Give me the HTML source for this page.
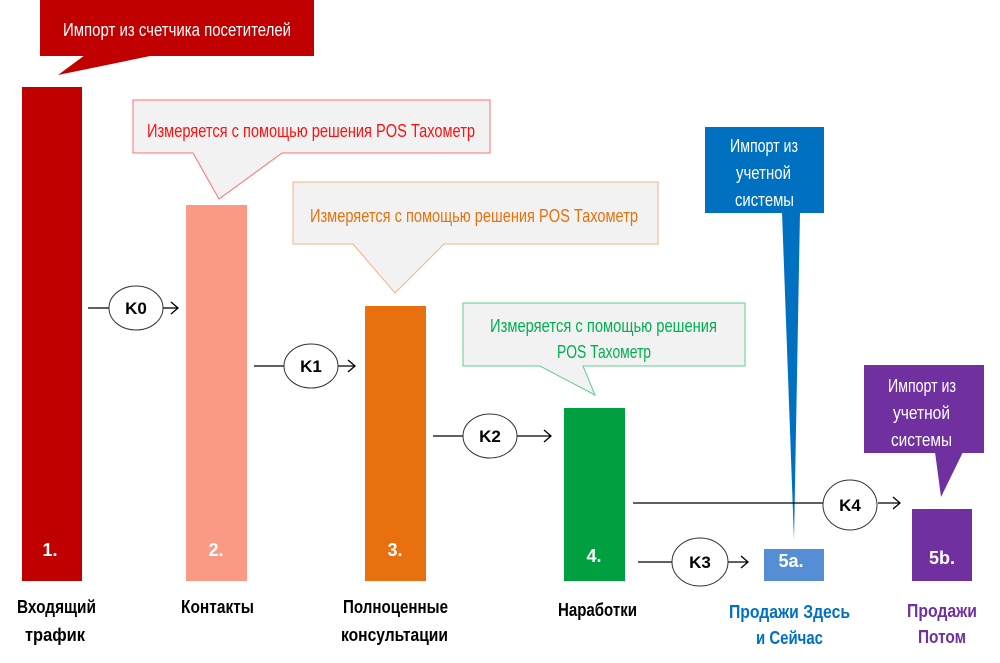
<!DOCTYPE html>
<html><head><meta charset="utf-8"><style>
html,body{margin:0;padding:0;background:#fff;}
svg{display:block;}
text{font-family:"Liberation Sans Narrow","Liberation Sans",sans-serif;}
.w{fill:#fff;font-size:18px;}
.b{font-weight:bold;}
</style></head><body>
<svg width="1000" height="663" viewBox="0 0 1000 663" xmlns="http://www.w3.org/2000/svg">
<rect x="40" y="0" width="274" height="56" fill="#c00000"/>
<polygon points="85,55 58,75 155,55" fill="#c00000"/>
<text x="63" y="36" class="w" textLength="228" lengthAdjust="spacingAndGlyphs">Импорт из счетчика посетителей</text>
<rect x="22" y="87" width="60" height="494" fill="#c00000"/>
<text x="50" y="556" text-anchor="middle" class="w b">1.</text>
<rect x="186" y="205" width="61" height="376" fill="#fa9a85"/>
<text x="216" y="556" text-anchor="middle" class="w b">2.</text>
<rect x="365" y="306" width="61" height="275" fill="#e8700e"/>
<text x="395" y="556" text-anchor="middle" class="w b">3.</text>
<rect x="564" y="408" width="61" height="173" fill="#00a040"/>
<text x="594" y="562" text-anchor="middle" class="w b">4.</text>
<rect x="764" y="549" width="60" height="32" fill="#558ed5"/>
<text x="791" y="567" text-anchor="middle" class="w b">5a.</text>
<rect x="912" y="509" width="60" height="72" fill="#7030a0"/>
<text x="942" y="564" text-anchor="middle" class="w b">5b.</text>
<path d="M133,100 H490 V153 H282 L219,199 L193,153 H133 Z" fill="#f2f2f2" stroke="#ff7070" stroke-width="1"/>
<text x="147" y="137" font-size="18" fill="#ff1010" textLength="328" lengthAdjust="spacingAndGlyphs">Измеряется с помощью решения POS Тахометр</text>
<path d="M293,182 H658 V244 H444 L395,293 L353,244 H293 Z" fill="#f2f2f2" stroke="#f4b183" stroke-width="1"/>
<text x="310" y="222" font-size="18" fill="#e8710a" textLength="328" lengthAdjust="spacingAndGlyphs">Измеряется с помощью решения POS Тахометр</text>
<path d="M463,303 H745 V366 H583 L595,395 L540,366 H463 Z" fill="#f2f2f2" stroke="#5ecf8e" stroke-width="1"/>
<text x="490" y="332" font-size="18" fill="#00b050" textLength="227" lengthAdjust="spacingAndGlyphs">Измеряется с помощью решения</text>
<text x="557" y="358" font-size="18" fill="#00b050" textLength="94" lengthAdjust="spacingAndGlyphs">POS Тахометр</text>
<rect x="705" y="127" width="119" height="86" fill="#0070c0"/>
<polygon points="782,212 794,540 800,212" fill="#0070c0"/>
<text x="730" y="152" class="w" textLength="68" lengthAdjust="spacingAndGlyphs">Импорт из</text>
<text x="736" y="179" class="w" textLength="55" lengthAdjust="spacingAndGlyphs">учетной</text>
<text x="735" y="206" class="w" textLength="59" lengthAdjust="spacingAndGlyphs">системы</text>
<rect x="864" y="365" width="120" height="88" fill="#7030a0"/>
<polygon points="935,452 941,497 963,452" fill="#7030a0"/>
<text x="888" y="392" class="w" textLength="68" lengthAdjust="spacingAndGlyphs">Импорт из</text>
<text x="893" y="419" class="w" textLength="57" lengthAdjust="spacingAndGlyphs">учетной</text>
<text x="891" y="446" class="w" textLength="61" lengthAdjust="spacingAndGlyphs">системы</text>
<g stroke="#000" stroke-width="1.3" fill="none">
<line x1="88" y1="308" x2="110" y2="308"/><line x1="163" y1="308" x2="178" y2="308"/><polyline points="171,302 178,308 171,314"/>
<line x1="254" y1="366" x2="284" y2="366"/><line x1="337" y1="366" x2="355" y2="366"/><polyline points="348,360 355,366 348,372"/>
<line x1="433" y1="436" x2="463" y2="436"/><line x1="517" y1="436" x2="551" y2="436"/><polyline points="544,430 551,436 544,442"/>
<line x1="633" y1="503" x2="823" y2="503"/><line x1="878" y1="503" x2="900" y2="503"/><polyline points="893,497 900,503 893,509"/>
<line x1="638" y1="562" x2="673" y2="562"/><line x1="728" y1="562" x2="748" y2="562"/><polyline points="741,556 748,562 741,568"/>
</g>
<g fill="#fff" stroke="#333" stroke-width="1">
<ellipse cx="136" cy="308" rx="27" ry="22"/>
<ellipse cx="311" cy="366" rx="27" ry="22"/>
<ellipse cx="490" cy="436" rx="27" ry="22"/>
<ellipse cx="850" cy="505" rx="27" ry="25"/>
<ellipse cx="700" cy="562" rx="28" ry="24"/>
</g>
<g font-size="17" font-weight="bold" text-anchor="middle" fill="#000">
<text x="136" y="314">K0</text>
<text x="311" y="372">K1</text>
<text x="490" y="442">K2</text>
<text x="850" y="511">K4</text>
<text x="700" y="568">K3</text>
</g>
<g font-size="18" font-weight="bold">
<text x="17" y="613" fill="#000" textLength="79" lengthAdjust="spacingAndGlyphs">Входящий</text>
<text x="25" y="641" fill="#000" textLength="60" lengthAdjust="spacingAndGlyphs">трафик</text>
<text x="181" y="613" fill="#000" textLength="73" lengthAdjust="spacingAndGlyphs">Контакты</text>
<text x="343" y="613" fill="#000" textLength="105" lengthAdjust="spacingAndGlyphs">Полноценные</text>
<text x="341" y="641" fill="#000" textLength="107" lengthAdjust="spacingAndGlyphs">консультации</text>
<text x="558" y="616" fill="#000" textLength="79" lengthAdjust="spacingAndGlyphs">Наработки</text>
<text x="729" y="618" fill="#0070c0" textLength="121" lengthAdjust="spacingAndGlyphs">Продажи Здесь</text>
<text x="756" y="644" fill="#0070c0" textLength="67" lengthAdjust="spacingAndGlyphs">и Сейчас</text>
<text x="907" y="617" fill="#7030a0" textLength="70" lengthAdjust="spacingAndGlyphs">Продажи</text>
<text x="918" y="643" fill="#7030a0" textLength="48" lengthAdjust="spacingAndGlyphs">Потом</text>
</g>
</svg>
</body></html>
